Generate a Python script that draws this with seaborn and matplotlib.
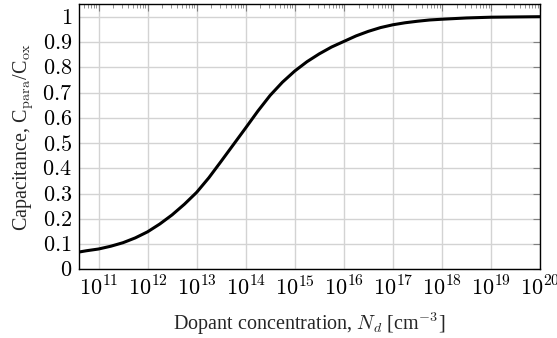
import numpy as np
import pandas as pd
import seaborn as sns
import matplotlib.pyplot as plt
from matplotlib.ticker import LogLocator, FixedLocator, NullFormatter

# values (log10 of doping, normalised capacitance)
log_nd = [10.6, 10.75, 11.0, 11.25, 11.5, 11.75, 12.0, 12.25, 12.5, 12.75,
          13.0, 13.25, 13.5, 13.75, 14.0, 14.25, 14.5, 14.75, 15.0, 15.25,
          15.5, 15.75, 16.0, 16.25, 16.5, 16.75, 17.0, 17.25, 17.5, 17.75,
          18.0, 18.5, 19.0, 19.5, 20.0]
c_ratio = [0.069, 0.074, 0.081, 0.092, 0.106, 0.125, 0.149, 0.180, 0.216, 0.258,
           0.305, 0.363, 0.428, 0.494, 0.560, 0.627, 0.689, 0.741, 0.785, 0.822,
           0.853, 0.880, 0.902, 0.924, 0.942, 0.957, 0.968, 0.976, 0.982, 0.987,
           0.990, 0.995, 0.998, 0.999, 1.0]
y_ticks = [0, 0.1, 0.2, 0.3, 0.4, 0.5, 0.6, 0.7, 0.8, 0.9, 1]
y_labels = ['0', '0.1', '0.2', '0.3', '0.4', '0.5', '0.6', '0.7', '0.8', '0.9', '1']

df = pd.DataFrame({'Nd': np.power(10.0, log_nd), 'C': c_ratio})

sns.set_theme(style='white')
plt.rcParams['font.family'] = ['Liberation Serif', 'DejaVu Serif']
plt.rcParams['mathtext.fontset'] = 'cm'

fig = plt.figure(figsize=(5.57, 3.38), dpi=100)
ax = fig.add_axes([0.1418, 0.2027, 0.8277, 0.7853])

sns.lineplot(data=df, x='Nd', y='C', ax=ax, color='black', linewidth=2.2)

ax.set_xscale('log')
ax.set_xlim(4e10, 1e20)
ax.set_ylim(0, 1.05)

ax.xaxis.set_major_locator(FixedLocator([10.0 ** k for k in range(11, 21)]))
ax.xaxis.set_minor_locator(LogLocator(base=10, subs=np.arange(2, 10), numticks=30))
ax.xaxis.set_minor_formatter(NullFormatter())
ax.set_xticklabels([r'$10^{%d}$' % k for k in range(11, 21)])
ax.set_yticks(y_ticks)
ax.set_yticklabels(['$%s$' % s for s in y_labels])

ax.grid(True, which='major', color='#d3d3d3', linewidth=1.0)
ax.tick_params(which='both', direction='in', top=True, right=True,
               color='#808080', labelsize=16, labelcolor='black')
ax.tick_params(which='major', length=5, width=0.8, pad=5)
ax.tick_params(which='minor', length=3, width=0.6)
ax.tick_params(axis='y', which='minor', left=False, right=False)

for s in ax.spines.values():
    s.set_color('black')
    s.set_linewidth(1.0)

ax.set_xlabel(r'Dopant concentration, $N_d$ [cm$^{-3}$]', fontsize=14.5, labelpad=7)
ax.set_ylabel(r'Capacitance, C$_{\rm para}$/C$_{\rm ox}$', fontsize=14.5)

fig.savefig('out.png', dpi=100)
